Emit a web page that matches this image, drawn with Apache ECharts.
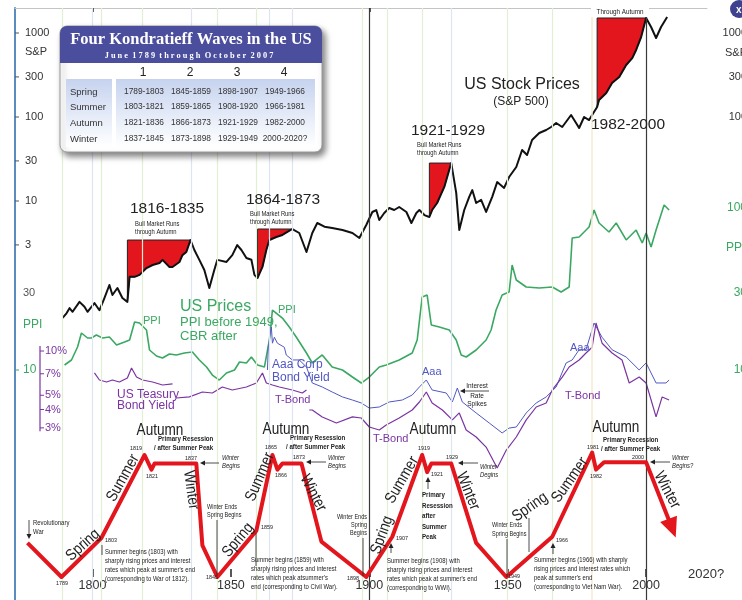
<!DOCTYPE html>
<html>
<head>
<meta charset="utf-8">
<title>Four Kondratieff Waves in the US</title>
<script src="https://cdn.jsdelivr.net/npm/echarts@6/dist/echarts.min.js"></script>
<style>
  html, body { margin: 0; padding: 0; background: #fff; }
  #chart { width: 742px; height: 600px; }
</style>
</head>
<body>
<div id="chart"></div>
<script>
// ---- data: [year, value] ----
// S&P 500 composite (log scale)
const spIndex = [
  [1789.2, 0.405], [1790.6, 0.46], [1791.7, 0.53], [1792.8, 0.48], [1795.3, 0.63], [1797.1, 0.55],
  [1798.2, 0.48], [1800.7, 0.61], [1802.5, 0.50], [1804.3, 0.70], [1806.1, 1.0], [1807.2, 0.76],
  [1809.0, 0.92], [1810.8, 0.70], [1812.6, 0.63], [1813.4, 1.25], [1815.2, 1.25], [1817.0, 1.32],
  [1819.5, 1.59], [1821.7, 1.73], [1824.2, 1.83], [1825.3, 1.99], [1827.8, 1.64], [1828.9, 1.64],
  [1831.4, 1.88], [1832.5, 2.27], [1833.9, 2.47], [1835.4, 3.43], [1836.8, 2.61], [1838.6, 1.99],
  [1840.4, 1.51], [1842.2, 0.92], [1844.0, 1.51], [1845.1, 1.99], [1848.4, 1.88], [1850.5, 2.27],
  [1852.3, 2.99], [1853.8, 2.61], [1855.6, 2.10], [1857.4, 2.0], [1858.5, 1.32], [1859.6, 1.21],
  [1861.4, 1.64], [1862.8, 2.61], [1863.9, 3.43], [1866.4, 3.73], [1868.6, 3.94], [1870.4, 4.28],
  [1872.2, 4.64], [1874.7, 4.16], [1877.3, 2.47], [1879.4, 4.16], [1881.2, 5.47], [1883.8, 4.95],
  [1886.6, 4.77], [1890.3, 4.52], [1893.9, 4.16], [1896.4, 3.63], [1898.9, 5.18], [1901.1, 7.40],
  [1902.5, 7.81], [1903.6, 5.94], [1905.4, 7.2], [1907.2, 8.25], [1909.0, 7.81], [1910.8, 8.48],
  [1913.4, 7.40], [1915.2, 5.47], [1917.0, 7.2], [1918.1, 7.81], [1919.9, 6.8], [1921.7, 6.45],
  [1922.7, 7.81], [1924.5, 9.47], [1927.1, 14.7], [1929.6, 28.3], [1931.4, 12.5], [1932.5, 4.52],
  [1934.3, 7.81], [1936.1, 11.2], [1937.2, 13.5], [1938.6, 9.47], [1940.4, 10.3], [1942.2, 7.40],
  [1944.4, 11.2], [1946.2, 16.8], [1948.7, 14.3], [1950.5, 19.3], [1953.1, 25.4], [1955.2, 40.5],
  [1957.0, 35.3], [1958.8, 53.2], [1961.4, 64.5], [1963.9, 70.0], [1965.7, 76.0], [1967.5, 84.9],
  [1969.7, 76.0], [1972.9, 105.6], [1974.7, 84.9], [1975.8, 74], [1977.6, 100], [1979.4, 92],
  [1980.5, 105.6], [1982.3, 131.5], [1983.0, 159], [1985.6, 193], [1987.7, 254], [1990.3, 300],
  [1992.8, 416], [1995.0, 502], [1996.4, 628], [1998.2, 894], [2000.0, 1509], [2001.8, 1179],
  [2003.6, 872], [2005.4, 1179], [2007.6, 1549]
];

// US prices: PPI before 1949, CBR after (log scale)
const ppiIndex = [
  [1789.9, 10.74], [1792.4, 11.53], [1794.6, 13.87], [1796.0, 16.92], [1798.2, 15.76], [1799.6, 15.76],
  [1801.4, 16.44], [1803.6, 15.76], [1806.1, 15.98], [1808.7, 14.27], [1811.6, 14.89], [1813.4, 15.32],
  [1815.2, 19.79], [1817.0, 19.50], [1819.5, 17.66], [1820.6, 13.29], [1823.1, 12.20], [1825.3, 11.86],
  [1827.8, 12.55], [1830.3, 12.38], [1833.2, 12.73], [1836.1, 12.91], [1838.6, 11.53], [1841.2, 10.43],
  [1843.3, 9.31], [1845.8, 8.67], [1848.4, 9.58], [1851.3, 10.0], [1853.1, 11.2], [1855.6, 11.05],
  [1857.4, 12.03], [1859.6, 10.74], [1862.1, 10.43], [1863.9, 15.32], [1865.0, 23.46], [1865.7, 24.13],
  [1868.6, 20.94], [1871.1, 18.42], [1873.6, 15.98], [1877.3, 12.73], [1879.4, 11.05], [1883.0, 12.38],
  [1886.6, 10.43], [1890.3, 10.0], [1893.9, 9.05], [1897.1, 8.31], [1900.0, 9.05], [1903.6, 10.43],
  [1906.1, 10.74], [1910.8, 11.53], [1915.5, 12.73], [1917.3, 15.32], [1919.1, 28.22], [1920.9, 29.03],
  [1922.4, 18.96], [1925.3, 18.42], [1928.9, 17.66], [1931.4, 15.32], [1933.2, 12.38], [1935.0, 12.03],
  [1938.6, 13.29], [1942.2, 15.32], [1944.0, 17.66], [1945.8, 23.46], [1948.0, 29.03], [1950.5, 30.31],
  [1951.6, 44.49], [1953.1, 35.93], [1956.7, 32.53], [1961.4, 32.07], [1966.1, 32.53], [1969.3, 30.31],
  [1972.2, 32.53], [1973.3, 65.31], [1975.8, 66.24], [1979.4, 76.35], [1981.2, 97.2], [1983.0, 80.8],
  [1986.6, 71.1], [1989.2, 80.8], [1992.8, 63.5], [1996.4, 73.1], [1998.6, 60.8], [2000.0, 70.1],
  [2001.8, 57.4], [2003.6, 73.1], [2006.5, 104.4], [2008.3, 97.2]
];

// Aaa corporate bond yield, % (log scale)
const aaaYield = [
  [1863.2, 7.43], [1863.5, 10.6], [1864.6, 14.6], [1865.0, 11.3], [1865.7, 12.4], [1866.8, 11.3],
  [1867.5, 11.5], [1869.3, 10.6], [1870.0, 9.39], [1872.2, 8.69], [1874.7, 8.69], [1877.3, 7.78],
  [1879.4, 6.06], [1883.0, 5.69], [1886.6, 5.26], [1890.3, 4.87], [1893.9, 4.64], [1897.1, 4.43],
  [1900.0, 4.09], [1903.6, 4.16], [1907.2, 4.50], [1911.9, 4.64], [1915.5, 5.02], [1918.1, 5.69],
  [1920.6, 6.35], [1922.7, 5.43], [1927.8, 5.18], [1930.0, 4.50], [1931.8, 5.60], [1933.6, 4.50],
  [1938.6, 3.79], [1943.3, 3.24], [1948.0, 2.77], [1950.5, 2.99], [1953.1, 3.04], [1956.7, 3.79],
  [1960.3, 4.43], [1963.9, 4.87], [1967.5, 5.69], [1971.1, 8.29], [1973.3, 8.69], [1975.8, 10.2],
  [1978.3, 10.2], [1981.2, 15.5], [1984.1, 12.4], [1987.7, 10.2], [1992.8, 9.10], [1997.5, 7.43],
  [2000.0, 8.29], [2003.6, 6.06], [2007.2, 6.06], [2008.3, 6.35]
];

// US Treasury bond yield, %, three separate source pieces
const tBondEarly = [
  [1800.7, 7.09], [1802.5, 6.35], [1805.1, 6.15], [1807.2, 6.35], [1809.7, 6.15], [1812.6, 6.55],
  [1814.1, 7.66], [1814.4, 7.78], [1815.9, 6.65], [1818.1, 6.35], [1821.7, 6.15], [1825.3, 5.87],
  [1828.9, 5.97]
];
const tBondMid = [
  [1830.3, 4.79], [1835.0, 4.87], [1839.7, 5.26], [1843.3, 5.18], [1846.9, 5.69], [1850.5, 5.43],
  [1855.6, 5.69], [1859.2, 6.06], [1861.4, 7.09], [1862.8, 6.06], [1865.0, 5.87], [1867.5, 5.69],
  [1872.2, 5.43], [1875.8, 5.18], [1877.3, 5.43]
];
const tBondLate = [
  [1878.3, 3.97], [1879.4, 3.97], [1883.0, 3.56], [1888.1, 3.24], [1893.9, 3.56], [1897.1, 3.50],
  [1900.0, 3.04], [1903.6, 2.90], [1906.1, 3.14], [1910.8, 3.50], [1915.5, 3.97], [1918.1, 4.50],
  [1920.6, 5.26], [1922.7, 4.43], [1926.4, 3.97], [1930.0, 3.40], [1932.5, 3.79], [1935.0, 2.90],
  [1938.6, 2.60], [1942.2, 2.22], [1946.2, 1.60], [1949.5, 2.12], [1953.1, 2.60], [1956.7, 3.40],
  [1960.3, 4.16], [1963.9, 4.43], [1966.1, 5.43], [1969.7, 6.65], [1972.2, 7.78], [1975.8, 8.69],
  [1978.3, 9.69], [1980.5, 10.6], [1981.9, 15.5], [1984.1, 11.3], [1987.7, 9.69], [1991.3, 8.69],
  [1993.9, 6.06], [1997.5, 6.65], [2000.0, 6.06], [2003.6, 3.56], [2005.8, 4.87], [2008.3, 4.64]
];

// schematic long wave, 0 = trough, 100 = summer peak
const waveLevels = [
  [1776.5, 28], [1788.8, 0], [1803.2, 32], [1818.8, 100], [1821.3, 88], [1822.4, 93], [1837.5, 93],
  [1839.7, 26], [1845.1, 0], [1859.2, 38], [1865.0, 100], [1866.8, 88], [1868.6, 93], [1875.5, 93],
  [1882.7, 29], [1898.9, 0], [1908.3, 33], [1919.1, 100], [1920.9, 86], [1922.4, 93], [1929.6, 93],
  [1938.6, 28], [1949.5, 0], [1966.1, 33], [1980.5, 102], [1981.9, 88], [1984.8, 94], [2000.0, 94],
  [2009.4, 40]
];

// bull markets running through autumn: [from, to]
const bullRuns = [[1812.6, 1835.4], [1859.6, 1872.2], [1921.7, 1929.6], [1982.3, 2000.0]];

// season boundary lines
const greenLineYears = [1789, 1803, 1818, 1845, 1859, 1897.5, 1906.5, 1919, 1949.8, 1966];
const blueLineYears = [1800, 1835.7, 1864, 1872.2, 1929.6];
const amberLineYears = [1980.5];
const darkLineYears = [1900, 2000];

// ticks
const yearTicks = [1800, 1850, 1900, 1950, 2000];
const spTicks = [1000, 300, 100, 30, 10, 3];
const ppiTicks = [10];
const ppiRightTicks = [100, 30, 10];
const bondTicks = [10, 7, 5, 4, 3];

// table of the four waves
const kwColumns = ['1', '2', '3', '4'];
const kwSeasons = ['Spring', 'Summer', 'Autumn', 'Winter'];
const kwPeriods = [
  ['1789-1803', '1845-1859', '1898-1907', '1949-1966'],
  ['1803-1821', '1859-1865', '1908-1920', '1966-1981'],
  ['1821-1836', '1866-1873', '1921-1929', '1982-2000'],
  ['1837-1845', '1873-1898', '1929-1949', '2000-2020?']
];

// ---- layout ----
const SANS = "'Liberation Sans', Arial, Helvetica, sans-serif";
const SERIF = "'Liberation Serif', 'Times New Roman', serif";
const RED = '#e3161d', GREEN = '#3aa862', PURPLE = '#7a33a3', BLUE = '#5157c2';
const GRID_TOP = 8, GRID_BOTTOM = 600;

// log axis range from one anchor value, its pixel row and pixels per decade
function logRange(v, px, perDecade) {
  const lv = Math.log10(v);
  return {
    min: Math.pow(10, lv - (GRID_BOTTOM - px) / perDecade),
    max: Math.pow(10, lv + (px - GRID_TOP) / perDecade)
  };
}
const spRange = logRange(100, 117, 84);
const ppiRange = logRange(10, 370, 162);
const bondRange = logRange(10, 351, 147);
const wavePx = (577 - 455) / 100;
const waveRange = { min: -(GRID_BOTTOM - 577) / wavePx, max: (577 - GRID_TOP) / wavePx };

const chart = echarts.init(document.getElementById('chart'));

function peakOf(from, to) {
  return Math.max.apply(null, spIndex.filter(d => d[0] >= from - 1e-6 && d[0] <= to + 1e-6).map(d => d[1]));
}

function renderBullRun(params, api) {
  const from = api.value(0), top = api.value(1), to = api.value(2);
  const pts = spIndex.filter(d => d[0] >= from - 1e-6 && d[0] <= to + 1e-6).map(d => api.coord(d));
  pts.push(api.coord([from, top]));
  return {
    type: 'polygon',
    shape: { points: pts },
    style: { fill: RED, stroke: '#222', lineWidth: 1 }
  };
}

function vLines(years, color, width) {
  return years.map(y => ({ xAxis: y, lineStyle: { color: color, width: width, type: 'solid' } }));
}

const waveData = waveLevels.map((d, i) => {
  if (i < waveLevels.length - 1) return d;
  return { value: d, symbol: 'triangle', symbolSize: [18, 20], symbolRotate: 201, itemStyle: { color: RED } };
});

const tBondStyle = { type: 'line', yAxisIndex: 2, showSymbol: false, z: 3,
  lineStyle: { color: PURPLE, width: 1.2 } };

const option = {
  animation: false,
  textStyle: { fontFamily: SANS },
  grid: { left: 15, right: 35, top: GRID_TOP, bottom: 600 - GRID_BOTTOM },
  xAxis: [
    {
      type: 'value', min: 1772, max: 2022, position: 'bottom',
      axisLine: { show: false },
      splitLine: { show: false },
      axisTick: { show: true, inside: true, length: 8, customValues: yearTicks,
        lineStyle: { color: '#222', width: 1.5 } },
      axisLabel: { inside: true, margin: 8, customValues: yearTicks,
        formatter: v => String(v),
        fontSize: 12.5, color: '#333', fontFamily: SANS }
    },
    {
      type: 'value', min: 1772, max: 2022, position: 'top',
      axisLine: { show: true, lineStyle: { color: '#c4c4c4', width: 1 } },
      splitLine: { show: false },
      axisTick: { show: true, inside: true, length: 4, customValues: [1800, 1900],
        lineStyle: { color: '#222', width: 1.5 } },
      axisLabel: { show: false }
    }
  ],
  yAxis: [
    { type: 'log', logBase: 10, min: spRange.min, max: spRange.max,
      axisLine: { show: true, lineStyle: { color: '#5a8cbd', width: 2 } },
      axisTick: { show: false }, axisLabel: { show: false }, splitLine: { show: false } },
    { type: 'log', logBase: 10, min: ppiRange.min, max: ppiRange.max, show: false },
    { type: 'log', logBase: 10, min: bondRange.min, max: bondRange.max, show: false },
    { type: 'value', min: waveRange.min, max: waveRange.max, show: false }
  ],
  series: [
    {
      name: 'season lines', type: 'line', yAxisIndex: 3, z: 1, silent: true,
      data: [[1772, 0]], showSymbol: false, lineStyle: { opacity: 0 },
      markLine: {
        silent: true, symbol: ['none', 'none'], label: { show: false }, animation: false,
        data: [].concat(
          vLines(greenLineYears, '#e2efd2', 1.2),
          vLines(blueLineYears, '#dfe4f2', 1.2),
          vLines(amberLineYears, '#f6ead2', 1.5),
          vLines(darkLineYears, '#3a3a3a', 1.2)
        )
      }
    },
    {
      name: 'Bull Market Runs through Autumn', type: 'custom', yAxisIndex: 0, z: 2,
      renderItem: renderBullRun, encode: { x: 0, y: 1 },
      data: bullRuns.map(r => [r[0], peakOf(r[0], r[1]), r[1]])
    },
    {
      name: 'US Stock Prices (S&P 500)', type: 'line', yAxisIndex: 0, z: 4,
      data: spIndex, showSymbol: false,
      lineStyle: { color: '#111', width: 2, join: 'round' }
    },
    {
      name: 'US Prices', type: 'line', yAxisIndex: 1, z: 3,
      data: ppiIndex, showSymbol: false,
      lineStyle: { color: GREEN, width: 1.6 }
    },
    {
      name: 'Aaa Corp Bond Yield', type: 'line', yAxisIndex: 2, z: 3,
      data: aaaYield, showSymbol: false,
      lineStyle: { color: BLUE, width: 1 }
    },
    Object.assign({ name: 'T-Bond', data: tBondEarly }, tBondStyle),
    Object.assign({ name: 'T-Bond mid', data: tBondMid }, tBondStyle),
    Object.assign({ name: 'T-Bond late', data: tBondLate }, tBondStyle),
    {
      name: 'Long wave', type: 'line', yAxisIndex: 3, z: 5,
      data: waveData, symbol: 'none', showSymbol: true, showAllSymbol: true,
      lineStyle: { color: RED, width: 4, join: 'round' }
    }
  ]
};
chart.setOption(option);

// ---- text and furniture ----
function txt(x, y, text, o) {
  o = o || {};
  return {
    type: 'text', x: x, y: y, z: o.z || 60, silent: true,
    rotation: (o.rot || 0) * Math.PI / 180,
    scaleX: o.sx || 1,
    style: {
      text: text, fill: o.color || '#222',
      fontSize: o.size || 7, fontFamily: o.serif ? SERIF : SANS,
      fontWeight: o.bold ? 'bold' : 'normal', fontStyle: o.italic ? 'italic' : 'normal',
      align: o.align || 'left', verticalAlign: o.va || 'middle',
      lineHeight: o.lh || Math.round((o.size || 7) * 1.2)
    }
  };
}
function seg(x1, y1, x2, y2, color, w) {
  return { type: 'line', silent: true, z: 60, shape: { x1: x1, y1: y1, x2: x2, y2: y2 },
    style: { stroke: color || '#222', lineWidth: w || 0.8 } };
}
function head(x, y, dir) {
  const p = dir === 'left' ? [[x, y], [x + 5, y - 2.5], [x + 5, y + 2.5]]
    : dir === 'up' ? [[x, y], [x - 2.5, y + 5], [x + 2.5, y + 5]]
    : [[x, y], [x - 2.5, y - 5], [x + 2.5, y - 5]];
  return { type: 'polygon', silent: true, z: 60, shape: { points: p }, style: { fill: '#222' } };
}

const g = [];
const yPx = (axis, v) => chart.convertToPixel({ yAxisIndex: axis }, v);

// left axis labels
spTicks.forEach(v => {
  const y = yPx(0, v);
  g.push(seg(15, y, 19, y, '#555', 1));
  g.push(txt(25, y, String(v), { size: 11, color: '#333' }));
});
g.push(txt(25, 52, 'S&P', { size: 11, color: '#333' }));
g.push(txt(23, yPx(1, 30), '30', { size: 11, color: '#555' }));
g.push(txt(23, 325, 'PPI', { size: 12, color: GREEN }));
ppiTicks.forEach(v => {
  const y = yPx(1, v);
  g.push(seg(15, y, 19, y, GREEN, 1));
  g.push(txt(23, y, String(v), { size: 12, color: GREEN }));
});
// bond axis
g.push(seg(40, yPx(2, 10.8), 40, yPx(2, 2.85), PURPLE, 1.2));
bondTicks.forEach(v => {
  const y = yPx(2, v);
  g.push(seg(40, y, 44, y, PURPLE, 1));
  g.push(txt(45, y, v + '%', { size: 11, color: PURPLE }));
});
// right axis labels, cut by the frame edge
[1000, 300, 100].forEach(v => g.push(txt(747, yPx(0, v), String(v), { size: 11, color: '#333', align: 'right' })));
g.push(txt(747, 53, 'S&P', { size: 11, color: '#333', align: 'right' }));
ppiRightTicks.forEach(v => g.push(txt(747, yPx(1, v), String(v), { size: 12, color: GREEN, align: 'right' })));
g.push(txt(742, 248, 'PP', { size: 12, color: GREEN, align: 'right' }));
g.push({ type: 'circle', silent: true, z: 60, shape: { cx: 739, cy: 9, r: 9 }, style: { fill: '#3d418e' } });
g.push(txt(736, 10, 'x', { size: 10, bold: true, color: '#fff' }));

// stock price titles
g.push(txt(522, 85, 'US Stock Prices', { size: 16, align: 'center' }));
g.push(txt(521, 102, '(S&P 500)', { size: 12, align: 'center' }));
g.push(txt(167, 209, '1816-1835', { size: 15.5, align: 'center' }));
g.push(txt(135, 220, 'Bull Market Runs\nthrough Autumn', { size: 6.5, va: 'top', lh: 8, sx: 0.9 }));
g.push(txt(283, 200, '1864-1873', { size: 15.5, align: 'center' }));
g.push(txt(250, 210, 'Bull Market Runs\nthrough Autumn', { size: 6.5, va: 'top', lh: 8, sx: 0.9 }));
g.push(txt(448, 131, '1921-1929', { size: 15.5, align: 'center' }));
g.push(txt(417, 141, 'Bull Market Runs\nthrough Autumn', { size: 6.5, va: 'top', lh: 8, sx: 0.9 }));
g.push(txt(628, 125, '1982-2000', { size: 15.5, align: 'center' }));
g.push({ type: 'rect', silent: true, z: 59, shape: { x: 591, y: 7, width: 58, height: 10 }, style: { fill: '#fff' } });
g.push(txt(620, 12, 'Through Autumn', { size: 7, align: 'center', sx: 0.9 }));

// price and yield labels
g.push(txt(180, 307, 'US Prices', { size: 16, color: GREEN }));
g.push(txt(180, 315, 'PPI before 1949,\nCBR after', { size: 13, color: GREEN, va: 'top', lh: 14 }));
g.push(txt(143, 321, 'PPI', { size: 11, color: GREEN }));
g.push(txt(278, 310, 'PPI', { size: 11, color: GREEN }));
g.push(txt(272, 358, 'Aaa Corp\nBond Yield', { size: 12, color: BLUE, va: 'top', lh: 13 }));
g.push(txt(117, 389, 'US Teasury\nBond Yield', { size: 12, color: PURPLE, va: 'top', lh: 11 }));
g.push(txt(275, 400, 'T-Bond', { size: 11, color: PURPLE }));
g.push(txt(373, 439, 'T-Bond', { size: 11, color: PURPLE }));
g.push(txt(422, 372, 'Aaa', { size: 11, color: BLUE }));
g.push(txt(570, 348, 'Aaa', { size: 11, color: BLUE }));
g.push(txt(565, 396, 'T-Bond', { size: 11, color: PURPLE }));
g.push(txt(477, 386, 'Interest', { size: 6.5, align: 'center' }));
g.push(txt(477, 396, 'Rate', { size: 6.5, align: 'center' }));
g.push(txt(477, 404, 'Spikes', { size: 6.5, align: 'center' }));
g.push(seg(462, 391, 489, 391));
g.push(head(460, 391, 'left'));

// season names on the wave
const seasonFont = { size: 16, sx: 0.85 };
[
  ['Autumn', 160, 431, 0], ['Autumn', 286, 430, 0], ['Autumn', 433, 430, 0], ['Autumn', 616, 428, 0],
  ['Spring', 83, 545, 42], ['Summer', 123, 478, 61], ['Winter', 191, 490, -82],
  ['Spring', 238, 540, 50], ['Summer', 260, 477, 67], ['Winter', 313, 493, -62],
  ['Spring', 382, 535, 70], ['Summer', 402, 480, 60], ['Winter', 468, 491, -68],
  ['Spring', 530, 507, 35], ['Summer', 570, 480, 55], ['Winter', 667, 490, -62]
].forEach(s => g.push(txt(s[1], s[2], s[0], Object.assign({ align: 'center', rot: s[3] }, seasonFont))));

// recession and turning-point notes
const tiny = { size: 6, sx: 0.9 };
const note = { size: 7.5, bold: true, sx: 0.82 };
g.push(txt(158, 439, 'Primary Resession', note));
g.push(txt(154, 448, '/ after Summer Peak', note));
g.push(txt(290, 438, 'Primary Resession', note));
g.push(txt(286, 447, '/ after Summer Peak', note));
g.push(txt(603, 440, 'Primary Recession', note));
g.push(txt(601, 449, '/ after Summer Peak', note));
g.push(txt(422, 490, 'Primary\nResession\nafter\nSummer\nPeak', Object.assign({ va: 'top', lh: 10.5 }, note)));
g.push(seg(428, 480, 428, 489)); g.push(head(428, 477, 'up'));

[
  ['1819', 136, 448], ['1821', 152, 476], ['1837', 191, 458],
  ['1865', 271, 447], ['1866', 281, 475], ['1873', 299, 457],
  ['1919', 424, 448], ['1929', 452, 457],
  ['1981', 593, 447], ['1982', 596, 476], ['2000', 638, 457],
  ['1789', 62, 583], ['1845', 212, 577], ['1898', 353, 578], ['1949', 514, 576]
].forEach(s => g.push(txt(s[1], s[2], s[0], Object.assign({ align: 'center' }, tiny))));
g.push(txt(431, 474, '1921', tiny));
[['1803', 105, 540], ['1859', 261, 527], ['1907', 396, 538], ['1966', 556, 540]]
  .forEach(s => g.push(txt(s[1], s[2], s[0], tiny)));

const italicNote = { size: 6.5, italic: true, va: 'top', lh: 8, sx: 0.9 };
g.push(txt(222, 454, 'Winter\nBegins', italicNote));
g.push(seg(203, 463, 219, 463)); g.push(head(200, 463, 'left'));
g.push(txt(328, 454, 'Winter\nBegins', italicNote));
g.push(seg(309, 462, 326, 462)); g.push(head(306, 462, 'left'));
g.push(txt(480, 463, 'Winter\nDegins', italicNote));
g.push(seg(461, 463, 478, 463)); g.push(head(458, 463, 'left'));
g.push(txt(672, 454, 'Winter\nBegins?', italicNote));
g.push(seg(653, 462, 670, 462)); g.push(head(650, 462, 'left'));

g.push(txt(33, 519, 'Revolutionary\nWar', { size: 7, va: 'top', lh: 9, sx: 0.85 }));
g.push(seg(29, 520, 29, 534)); g.push(head(29, 539, 'down'));

const story = { size: 7, va: 'top', lh: 9.2, sx: 0.85 };
g.push(seg(102, 545, 102, 555));
g.push(txt(105, 547, "Summer begins (1803) with\nsharply rising prices and interest\nrates which peak at summer's end\n(corresponding to War of 1812).", story));
g.push(txt(207, 503, 'Winter Ends\nSpring Begins', { size: 6.5, va: 'top', lh: 8, sx: 0.85 }));
g.push(seg(217, 520, 217, 575));
g.push(seg(256, 533, 256, 566));
g.push(txt(251, 555, "Summer begins (1859) with\nsharply rising prices and interest\nrates which peak atsummer's\nend (corresponding to Civil War).", story));
g.push(txt(367, 513, 'Winter Ends\nSpring\nBegins', { size: 6.5, va: 'top', lh: 8, sx: 0.85, align: 'right' }));
g.push(seg(363, 538, 363, 576));
g.push(seg(391, 546, 391, 553)); g.push(head(391, 543, 'up'));
g.push(txt(387, 556, "Summer begins (1908) with\nsharply rising prices and interest\nrates which peak at summer's end\n(corresponding to WWI).", story));
g.push(txt(492, 521, 'Winter Ends\nSpring Begins', { size: 6.5, va: 'top', lh: 8.5, sx: 0.85 }));
g.push(seg(507, 539, 507, 577));
g.push(seg(529, 518, 529, 552));
g.push(seg(553, 547, 553, 554)); g.push(head(553, 543, 'up'));
g.push(txt(534, 555, "Summer begins (1966) with sharply\nrising prices and interest rates which\npeak at summer's end\n(corresponding to Viet Nam War).", story));
g.push(txt(688, 574, '2020?', { size: 13, color: '#333' }));

// the table of the four waves
const grad = new echarts.graphic.LinearGradient(0, 0, 0, 1, [
  { offset: 0, color: '#c6d3ef' }, { offset: 0.7, color: '#eef2fa' }, { offset: 1, color: '#ffffff' }
]);
g.push({ type: 'rect', silent: true, z: 70, shape: { x: 60, y: 26, width: 262, height: 126, r: 7 },
  style: { fill: '#fff', stroke: '#9a9a9a', lineWidth: 1, shadowBlur: 6, shadowOffsetX: 3,
    shadowOffsetY: 4, shadowColor: 'rgba(0,0,0,0.5)' } });
g.push({ type: 'rect', silent: true, z: 71, shape: { x: 60, y: 26, width: 262, height: 37, r: [7, 7, 0, 0] },
  style: { fill: '#4b4e9d' } });
g.push({ type: 'rect', silent: true, z: 71, shape: { x: 66, y: 79, width: 46, height: 68 }, style: { fill: grad } });
g.push({ type: 'rect', silent: true, z: 71, shape: { x: 116, y: 79, width: 199, height: 68 }, style: { fill: grad } });
g.push(txt(191, 40, 'Four Kondratieff Waves in the US', { size: 16.5, serif: true, bold: true, color: '#fff', align: 'center', z: 72 }));
g.push(txt(189, 56, 'J u n e  1 7 8 9  t h r o u g h  O c t o b e r  2 0 0 7', { size: 8.5, serif: true, bold: true, color: '#fff', align: 'center', z: 72, sx: 0.98 }));
const colX = [144, 191, 238, 285];
const rowY = [92, 107, 123, 139];
kwColumns.forEach((c, i) => g.push(txt(colX[i] - 1, 73, c, { size: 12, align: 'center', z: 72 })));
kwSeasons.forEach((s, r) => {
  g.push(txt(70, rowY[r], s, { size: 9.5, color: '#333', z: 72 }));
  kwPeriods[r].forEach((p, i) => g.push(txt(colX[i], rowY[r], p, { size: 8.8, color: '#333', align: 'center', z: 72, sx: 0.95 })));
});

chart.setOption({ graphic: g });
</script>
</body>
</html>
